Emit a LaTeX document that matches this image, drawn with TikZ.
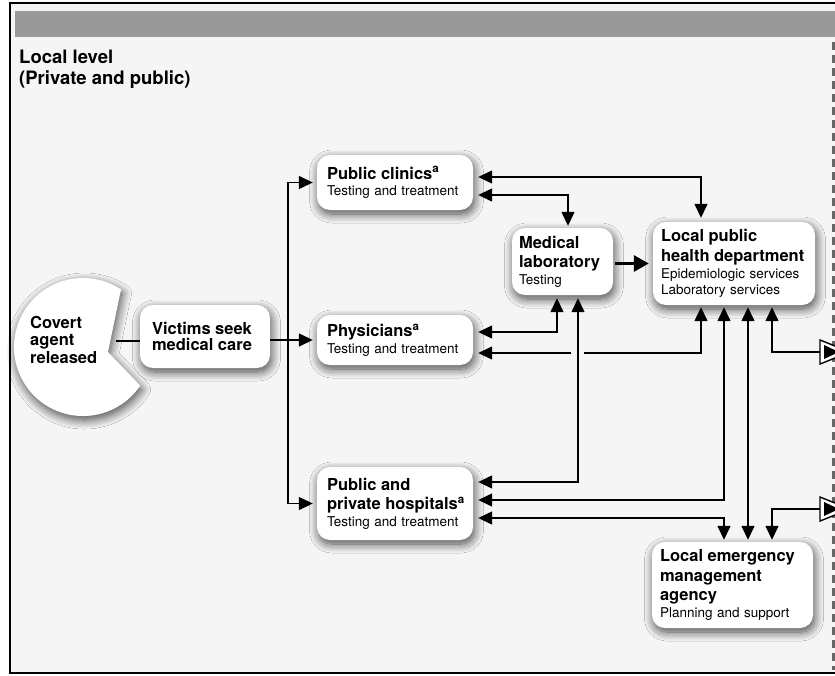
\documentclass[tikz,border=0pt]{standalone}
\usepackage{fontspec}
\setmainfont{TeX Gyre Heros}
\usetikzlibrary{arrows.meta,shadows.blur,calc}
\newcommand\hdfont{\fontsize{16.5}{18.5}\selectfont\bfseries}
\newcommand\smfont{\fontsize{13.5}{16.5}\selectfont\mdseries}
\begin{document}
\begin{tikzpicture}[x=1pt,y=-1pt,
  soft/.style={blur shadow={shadow xshift=1.5pt, shadow yshift=-4pt, shadow blur radius=9pt, shadow opacity=70, shadow blur steps=10}},
  box/.style={fill=white, rounded corners=13pt, inner ysep=4pt, align=left, font=\smfont, soft},
  plain/.style={line width=1.4pt, black},
  tip/.tip={Triangle[length=14pt,width=13pt,fill=black,color=black]},
  link/.style={plain, -tip},
  slink/.style={plain, tip-},
  blink/.style={plain, tip-tip},
  heavy/.style={line width=3pt, -{Triangle[length=15pt,width=16pt,fill=black]}},
  hollow/.style={line width=1.4pt, fill=white}]
\useasboundingbox (0,0) rectangle (835,675);
% background and frame
\fill[black!4] (10,3) rectangle (835,673);
\fill[black!40] (15,11) rectangle (835,37);
\draw[line width=1.5pt] (835,3) -- (10,3) -- (10,673) -- (835,673);
\draw[black!60, line width=3pt, dash pattern=on 8pt off 5pt] (833,42) -- (833,670);
\node[anchor=north west, inner sep=0, align=left, font=\fontsize{18.5}{21}\selectfont\bfseries] (title) at (19,50) {Local level\\(Private and public)};
% covert agent
\path[fill=white, soft] (108,352) -- (140.2,385.6) arc[start angle=34, end angle=303.4, radius=69] -- cycle;
\node[anchor=north west, inner sep=0, align=left, font=\fontsize{16.5}{17.5}\selectfont\bfseries] (covert) at (30,316) {Covert\\agent\\released};
\coordinate (bite) at (116,341);
% boxes
\node[box, inner xsep=12pt, minimum width=130, minimum height=63, text width=106] (victims) at (205,336.5) {\hdfont Victims~seek\\medical~care};
\node[box, inner xsep=10pt, minimum width=156, minimum height=55, text width=136] (clinics) at (395,182.5) {\hdfont Public~clinics\textsuperscript{a}\\[0pt]\smfont Testing~and~treatment};
\node[box, inner xsep=10pt, minimum width=156, minimum height=50, text width=136] (phys) at (395,340) {\hdfont Physicians\textsuperscript{a}\\[0pt]\smfont Testing~and~treatment};
\node[box, inner xsep=10pt, minimum width=156, minimum height=73, text width=136] (hosp) at (395,503.5) {\hdfont Public~and\\[1pt]private~hospitals\textsuperscript{a}\\[0pt]\smfont Testing~and~treatment};
\node[box, inner xsep=7pt, minimum width=101, minimum height=67, text width=87] (medlab) at (562.5,261.5) {\hdfont Medical\\[1pt]laboratory\\[0pt]\smfont Testing};
\node[box, inner xsep=8pt, minimum width=162, minimum height=83, text width=146] (lphd) at (734,263.5) {\hdfont Local~public\\[2pt]health~department\\[0pt]\smfont Epidemiologic~services\\Laboratory~services};
\node[box, inner xsep=8pt, minimum width=161, minimum height=86, text width=145] (lema) at (732.5,585) {\hdfont Local~emergency\\[1pt]management\\[1pt]agency\\[0pt]\smfont Planning~and~support};
% connectors left
\coordinate (tr) at (288,340);
\draw[plain] (bite) -- (bite -| victims.west);
\draw[link] (victims.east |- phys.west) -- ([xshift=-4pt]phys.west);
\draw[link] (tr) |- ([xshift=-4pt]clinics.west);
\draw[link] (tr) |- ([xshift=-4pt]hosp.west);
% connectors right
\draw[blink] ([xshift=5pt,yshift=5.5pt]clinics.east) -| ([xshift=-33pt,yshift=4pt]lphd.north);
\draw[blink] ([xshift=5pt,yshift=-12.5pt]clinics.east) -| ([xshift=5.5pt,yshift=2pt]medlab.north);
\draw[heavy] ([xshift=2pt]medlab.east |- lphd.west) -- ([xshift=-4pt]lphd.west);
\draw[blink] ([xshift=5pt,yshift=8pt]phys.east) -| ([xshift=-5.5pt,yshift=-3pt]medlab.south);
\coordinate (gapL) at (571,353);
\coordinate (gapR) at (584,353);
\draw[link] (gapL) -- ([xshift=5pt]phys.east |- gapL);
\draw[link] (gapR) -| ([xshift=-33pt,yshift=-2pt]lphd.south);
\draw[blink] ([xshift=5pt,yshift=21.5pt]hosp.east) -| ([xshift=15.5pt,yshift=-3pt]medlab.south);
\draw[blink] ([xshift=5pt,yshift=3.5pt]hosp.east) -| ([xshift=-10pt,yshift=-2pt]lphd.south);
\draw[blink] ([xshift=5pt,yshift=-14.5pt]hosp.east) -| ([xshift=-8.5pt,yshift=2pt]lema.north);
\draw[blink] ([xshift=14pt,yshift=-2pt]lphd.south) -- ([xshift=15.5pt,yshift=2pt]lema.north);
\coordinate (out1) at (820,352);
\coordinate (out2) at (820,509);
\draw[slink] ([xshift=38pt,yshift=-2pt]lphd.south) |- (out1);
\draw[slink] ([xshift=39.5pt,yshift=2pt]lema.north) |- (out2);
\foreach \o in {out1,out2} {
  \draw[hollow] ([yshift=12pt]\o) -- ([xshift=30pt]\o) -- ([yshift=-12pt]\o) -- cycle;
  \fill ([xshift=4pt,yshift=7pt]\o) -- ([xshift=19pt]\o) -- ([xshift=4pt,yshift=-7pt]\o) -- cycle;
}
\end{tikzpicture}
\end{document}
